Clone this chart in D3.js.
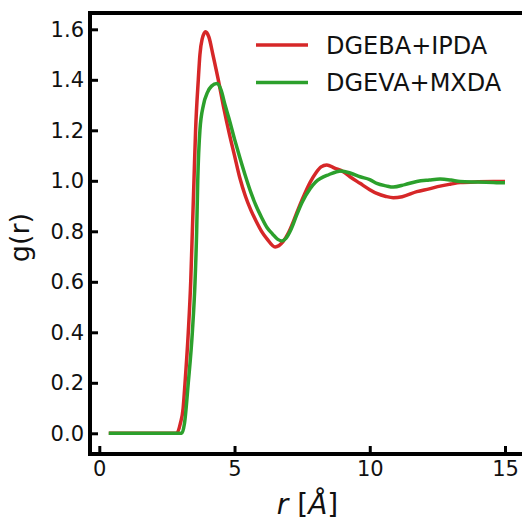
<!DOCTYPE html>
<html>
<head>
<meta charset="utf-8">
<script src="https://cdn.jsdelivr.net/npm/d3@7"></script>
<style>
  html, body { margin: 0; padding: 0; background: #fff; }
  svg { display: block; font-family: "DejaVu Sans", sans-serif; }
</style>
</head>
<body>
<svg id="chart" width="522" height="521"></svg>
<script>
// ---- data ----
const seriesNames = ["DGEBA+IPDA", "DGEVA+MXDA"];
const seriesColors = ["#d62728", "#2ca02c"];

const rRed = [0.35, 1.0, 2.0, 2.6, 2.86, 3.0, 3.1, 3.17, 3.29, 3.38, 3.44, 3.5, 3.56, 3.66, 3.72, 3.8, 3.93, 4.05, 4.2, 4.3, 4.4, 4.6, 4.8, 5.0, 5.2, 5.4, 5.6, 5.8, 6.0, 6.2, 6.5, 6.8, 7.0, 7.2, 7.4, 7.6, 7.8, 8.0, 8.2, 8.41, 8.7, 9.02, 9.27, 9.64, 10.0, 10.26, 10.6, 10.87, 11.2, 11.74, 12.2, 12.6, 13.0, 13.34, 14.0, 14.57, 15.0];
const gRed = [0.0, 0.0, 0.0, 0.0, 0.0, 0.04, 0.1, 0.2, 0.4, 0.6, 0.8, 1.0, 1.2, 1.4, 1.5, 1.56, 1.59, 1.57, 1.5, 1.45, 1.40, 1.29, 1.19, 1.10, 1.01, 0.94, 0.885, 0.84, 0.80, 0.77, 0.738, 0.76, 0.795, 0.845, 0.90, 0.95, 0.995, 1.03, 1.055, 1.063, 1.05, 1.036, 1.016, 0.99, 0.965, 0.95, 0.938, 0.933, 0.937, 0.957, 0.968, 0.979, 0.987, 0.993, 0.996, 0.997, 0.997];

const rGreen = [0.35, 1.0, 2.0, 2.7, 3.05, 3.15, 3.29, 3.44, 3.54, 3.6, 3.64, 3.72, 3.85, 4.0, 4.15, 4.35, 4.5, 4.65, 4.8, 5.0, 5.2, 5.4, 5.6, 5.8, 6.0, 6.2, 6.4, 6.6, 6.75, 6.9, 7.1, 7.3, 7.5, 7.8, 8.0, 8.5, 8.94, 9.3, 9.64, 10.0, 10.26, 10.6, 10.87, 11.3, 11.74, 12.2, 12.6, 13.0, 13.34, 14.0, 14.57, 15.0];
const gGreen = [0.0, 0.0, 0.0, 0.0, 0.0, 0.04, 0.2, 0.4, 0.6, 0.8, 1.0, 1.2, 1.3, 1.35, 1.375, 1.385, 1.36, 1.30, 1.245, 1.165, 1.09, 1.02, 0.955, 0.90, 0.855, 0.815, 0.79, 0.768, 0.762, 0.772, 0.81, 0.865, 0.915, 0.97, 0.995, 1.025, 1.039, 1.03, 1.016, 1.005, 0.99, 0.98, 0.975, 0.985, 0.997, 1.003, 1.007, 1.003, 0.997, 0.995, 0.993, 0.992];

const xTicks = [0, 5, 10, 15];
const yTicks = [0.0, 0.2, 0.4, 0.6, 0.8, 1.0, 1.2, 1.4, 1.6];

// ---- layout ----
const svg = d3.select("#chart");
const mLeft = 90, mRight = 525, mTop = 13, mBottom = 454;

const x = d3.scaleLinear().domain([-0.344, 15.74]).range([mLeft, mRight]);
const y = d3.scaleLinear().domain([-0.082, 1.6646]).range([mBottom, mTop]);

const series = [
  { name: seriesNames[0], color: seriesColors[0], pts: rRed.map((r, i) => [r, gRed[i]]) },
  { name: seriesNames[1], color: seriesColors[1], pts: rGreen.map((r, i) => [r, gGreen[i]]) }
];

const line = d3.line()
  .x(d => x(d[0]))
  .y(d => y(d[1]))
  .curve(d3.curveMonotoneX);

svg.append("g").selectAll("path")
  .data(series)
  .join("path")
  .attr("d", d => line(d.pts))
  .attr("fill", "none")
  .attr("stroke", d => d.color)
  .attr("stroke-width", 3.5)
  .attr("stroke-linejoin", "round");

// axes
const xAxis = d3.axisBottom(x).tickValues(xTicks).tickFormat(d3.format("d"))
  .tickSizeInner(-8).tickSizeOuter(0).tickPadding(7);
const yAxis = d3.axisLeft(y).tickValues(yTicks).tickFormat(d3.format(".1f"))
  .tickSizeInner(-8).tickSizeOuter(0).tickPadding(6);

const gx = svg.append("g").attr("transform", `translate(0,${mBottom})`).call(xAxis);
const gy = svg.append("g").attr("transform", `translate(${mLeft},0)`).call(yAxis);

[gx, gy].forEach(g => {
  g.select(".domain").remove();
  g.selectAll(".tick line").attr("stroke", "#000").attr("stroke-width", 3);
  g.selectAll(".tick text")
    .attr("fill", "#111")
    .style("font-size", "21px")
    .style("font-family", "'DejaVu Sans', sans-serif");
});

// frame (spines)
svg.append("rect")
  .attr("x", mLeft).attr("y", mTop)
  .attr("width", mRight - mLeft).attr("height", mBottom - mTop)
  .attr("fill", "none").attr("stroke", "#000").attr("stroke-width", 4);

// axis labels
svg.append("text")
  .attr("transform", `translate(29,${(mTop + mBottom) / 2 + 4}) rotate(-90)`)
  .attr("text-anchor", "middle")
  .style("font-size", "27px")
  .attr("fill", "#111")
  .text("g(r)");

const xl = svg.append("text")
  .attr("x", (mLeft + mRight) / 2)
  .attr("y", 514)
  .attr("text-anchor", "middle")
  .style("font-size", "28px")
  .attr("fill", "#111");
xl.append("tspan").style("font-style", "italic").text("r");
xl.append("tspan").text(" [");
xl.append("tspan").style("font-style", "italic").text("Å");
xl.append("tspan").text("]");

// legend
const leg = svg.append("g");
series.forEach((s, i) => {
  const yy = 45 + i * 37.5;
  leg.append("line")
    .attr("x1", 256).attr("x2", 308)
    .attr("y1", yy).attr("y2", yy)
    .attr("stroke", s.color).attr("stroke-width", 3.5);
  leg.append("text")
    .attr("x", 326).attr("y", yy + 8.5)
    .style("font-size", "24px")
    .attr("fill", "#111")
    .text(s.name);
});
</script>
</body>
</html>
